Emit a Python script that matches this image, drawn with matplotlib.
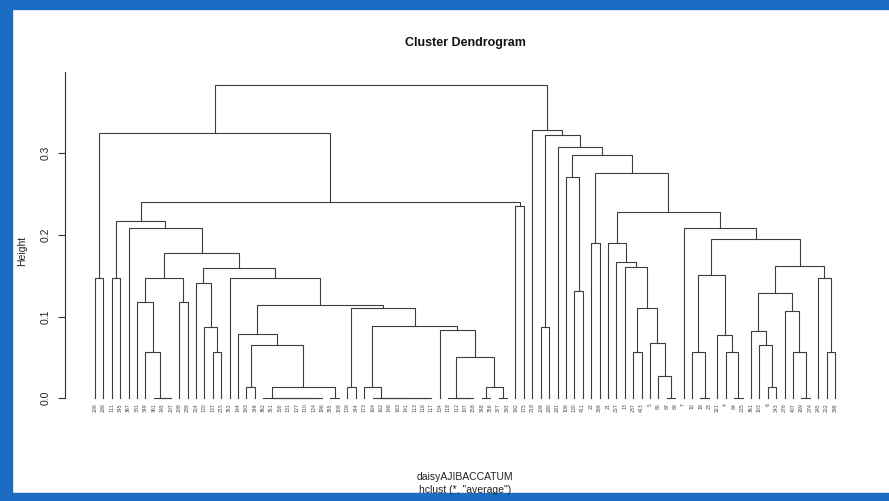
import matplotlib.pyplot as plt
from matplotlib.patches import Rectangle

plt.rcParams['font.family'] = ['Liberation Sans', 'DejaVu Sans']

# leaf labels in dendrogram order (left to right)
labels = ['206', '286', '111', '345', '367', '381', '349', '361', '145', '207',
          '208', '239', '254', '120', '137', '215', '352', '144', '193', '349',
          '362', '351', '300', '131', '127', '110', '124', '196', '355', '109',
          '126', '344', '173', '164', '162', '148', '163', '141', '113', '116',
          '117', '134', '118', '112', '107', '158', '348', '356', '377', '393',
          '192', '175', '218', '209', '280', '281', '106', '130', '411', '22',
          '389', '21', '257', '13', '237', '413', '5', '85', '87', '89',
          '7', '10', '19', '23', '321', '4', '64', '225', '361', '103',
          '6', '343', '276', '407', '269', '274', '245', '252', '399']

# hclust-style merge table: negative = leaf (1-based position), positive = earlier merge
merge_left = [-9, -8, -27, -26, -25, -24, -23, -22, -21, -29,
              -40, -39, -38, -37, -36, -35, -34, -45, -44, -43,
              -47, -49, -69, -73, -77, -85, -19, 9, -31, -33,
              21, -81, -68, 20, -7, -15, -65, -72, -76, -84,
              -88, 27, -80, -67, -75, -18, -79, -42, -54, -14,
              30, -83, 29, 37, 46, -6, -11, 47, -58, -13,
              -1, -3, 56, -17, -87, 38, 60, -64, 58, -63,
              63, -60, -62, 66, -5, -71, 62, 73, -51, 77,
              -57, 72, 81, -56, 49, 61, -53, 86]
merge_right = [-10, 1, -28, 3, 4, 5, 6, 7, 8, -30,
               -41, 11, 12, 13, 14, 15, 16, -46, 18, 19,
               -48, -50, -70, -74, -78, -86, -20, 10, -32, 17,
               22, -82, 23, 31, 2, -16, -66, 24, 25, 26,
               -89, 28, 32, 33, 39, 42, 43, 34, -55, 36,
               48, 40, 51, 44, 53, 35, -12, 52, -59, 50,
               -2, -4, 57, 55, 41, 45, 64, 54, 65, 68,
               67, -61, 70, 69, 71, 74, 75, 76, -52, 79,
               59, 78, 82, 83, 84, 80, 85, 87]
merge_height = [0, 0, 0, 0, 0, 0, 0, 0, 0, 0,
                0, 0, 0, 0, 0, 0, 0, 0, 0, 0,
                0, 0, 0, 0, 0, 0, 0.0135, 0.0135, 0.0135, 0.0135,
                0.0135, 0.0135, 0.0277, 0.050, 0.057, 0.057, 0.057, 0.057, 0.057, 0.057,
                0.057, 0.065, 0.065, 0.068, 0.078, 0.0787, 0.0824, 0.083, 0.0869, 0.087,
                0.089, 0.107, 0.110, 0.110, 0.114, 0.1175, 0.1175, 0.1285, 0.1317, 0.141,
                0.147, 0.147, 0.147, 0.147, 0.147, 0.151, 0.160, 0.161, 0.162, 0.167,
                0.178, 0.1905, 0.1905, 0.1946, 0.208, 0.208, 0.217, 0.2277, 0.2355, 0.2406,
                0.2712, 0.2754, 0.2978, 0.307, 0.322, 0.3247, 0.3284, 0.383]

W, H = 889, 501
fig = plt.figure(figsize=(W / 100, H / 100), dpi=100)


def px_rect(x0, y0, x1, y1):
    return [x0 / W, 1 - y1 / H, (x1 - x0) / W, (y1 - y0) / H]


# blue frame around the plot
blue = '#1a6dc2'
for x0, y0, x1, y1 in [(0, 0, W, 9), (0, 0, 12, H), (0, 493, W, H)]:
    fig.patches.append(Rectangle((x0 / W, 1 - y1 / H), (x1 - x0) / W, (y1 - y0) / H,
                                 transform=fig.transFigure, color=blue, zorder=0))

ax = fig.add_axes(px_rect(65, 60, 865, 410))
ax.patch.set_alpha(0)

n = len(labels)
node_x = [0.0] * (len(merge_height) + 1)


def coord(ref):
    if ref < 0:
        return float(-ref), 0.0
    return node_x[ref], merge_height[ref - 1]


for i, (l, r, h) in enumerate(zip(merge_left, merge_right, merge_height), start=1):
    xl, hl = coord(l)
    xr, hr = coord(r)
    ax.plot([xl, xl, xr, xr], [hl, h, h, hr], color='#3c3c3c', lw=0.8,
            solid_joinstyle='miter')
    node_x[i] = (xl + xr) / 2

for k, lab in enumerate(labels, start=1):
    ax.text(k, -0.006, lab, rotation=90, ha='center', va='top', fontsize=3.3,
            color='#444444', family='DejaVu Sans')

spacing = 740 / (n - 1)
ax.set_xlim(1 - 30 / spacing, n + 30 / spacing)
ax.set_ylim(-11.7 / 817, 338.3 / 817)

for s in ['top', 'right', 'bottom']:
    ax.spines[s].set_visible(False)
ax.spines['left'].set_bounds(0, 0.4)
ax.spines['left'].set_color('#333333')
ax.spines['left'].set_linewidth(0.8)
ax.set_xticks([])
ax.set_yticks([0, 0.1, 0.2, 0.3])
ax.set_yticklabels(['0.0', '0.1', '0.2', '0.3'], rotation=90, va='center')
ax.tick_params(axis='y', length=5, width=0.8, color='#333333', labelsize=7.5,
               pad=5, labelcolor='#222222')

fig.text(22 / W, 1 - 251 / H, 'Height', rotation=90, ha='center', va='center',
         fontsize=7.5, color='#222222')
fig.text(465 / W, 1 - 43 / H, 'Cluster Dendrogram', ha='center', va='center',
         fontsize=9, fontweight='bold', color='#111111')
fig.text(465 / W, 1 - 477 / H, 'daisyAJIBACCATUM', ha='center', va='center',
         fontsize=7.5, color='#222222')
fig.text(465 / W, 1 - 490 / H, 'hclust (*, "average")', ha='center', va='center',
         fontsize=7.5, color='#222222')

fig.savefig('out.png', dpi=100)
